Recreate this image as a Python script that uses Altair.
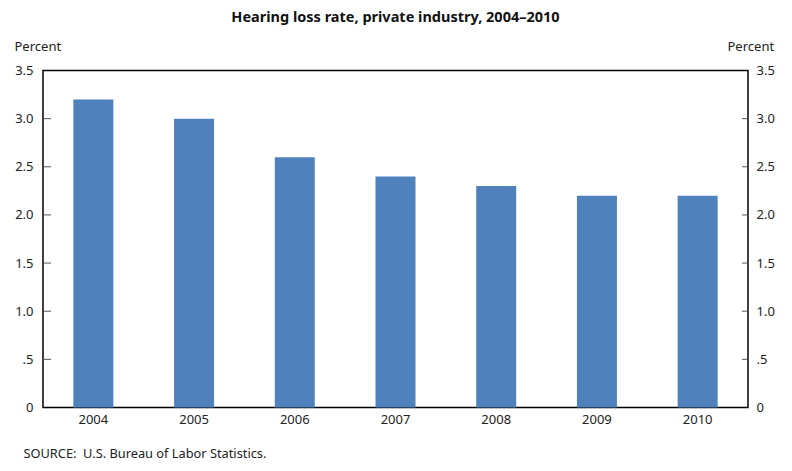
import altair as alt
import pandas as pd

years = ["2004", "2005", "2006", "2007", "2008", "2009", "2010"]
rates = [3.2, 3.0, 2.6, 2.4, 2.3, 2.2, 2.2]
tick_values = [0.5, 1.0, 1.5, 2.0, 2.5, 3.0]
axis_values = [0, 0.5, 1, 1.5, 2, 2.5, 3, 3.5]

df = pd.DataFrame({"year": years, "rate": rates})
ticks = pd.DataFrame({"v": tick_values})

FONT = "Noto Sans"
W, H = 705, 337
label_expr = "datum.value == 0 ? '0' : (datum.value < 1 ? '.' + format(datum.value * 10, 'd') : format(datum.value, '.1f'))"
yscale = alt.Scale(domain=[0, 3.5], nice=False, zero=True)

left_axis = alt.Axis(title="Percent", titleAngle=0, titleAlign="left", titleBaseline="alphabetic",
                     titleX=-29, titleY=-20, titleFontWeight="normal", titleFontSize=13,
                     titleFont=FONT, titleColor="#222",
                     values=axis_values, labelExpr=label_expr,
                     labelFontSize=13, labelFont=FONT, labelColor="#222", labelPadding=10,
                     ticks=False, domain=False, grid=False)

bars = alt.Chart(df).mark_bar(color="#4f81bd", width=40).encode(
    x=alt.X("year:N", sort=years, scale=alt.Scale(paddingInner=0.6, paddingOuter=0.3),
            axis=alt.Axis(title="SOURCE:\u00a0 U.S. Bureau of Labor Statistics.", titleAnchor="start",
                          titleAlign="left", titleBaseline="alphabetic", titleX=-20, titleY=50,
                          titleFontWeight="normal", titleFontSize=12.8, titleFont=FONT, titleColor="#222",
                          labelAngle=0, labelFontSize=13, labelFont=FONT, labelColor="#222",
                          labelPadding=6, ticks=False, domain=False)),
    y=alt.Y("rate:Q", scale=yscale, axis=left_axis),
)

left_ticks = alt.Chart(ticks).mark_rule(color="#555", strokeWidth=1).encode(
    y=alt.Y("v:Q", scale=yscale, axis=left_axis),
    x=alt.value(0), x2=alt.value(8),
)

right_ticks = alt.Chart(ticks).mark_rule(color="#555", strokeWidth=1).encode(
    y=alt.Y("v:Q", scale=yscale,
            axis=alt.Axis(orient="right", title="Percent", titleAngle=0, titleAlign="left",
                          titleBaseline="alphabetic", titleX=-21, titleY=-20,
                          titleFontWeight="normal", titleFontSize=13, titleFont=FONT, titleColor="#222",
                          values=axis_values, labelExpr=label_expr,
                          labelFontSize=13, labelFont=FONT, labelColor="#222", labelPadding=8,
                          ticks=False, domain=False, grid=False)),
    x=alt.value(W - 6), x2=alt.value(W),
)

chart = alt.layer(alt.layer(bars, left_ticks), right_ticks).resolve_scale(y="independent").properties(
    width=W, height=H,
    background="white",
    title=alt.TitleParams("Hearing loss rate, private industry, 2004–2010", font=FONT, fontSize=14.5,
                          fontWeight="bold", color="#111", anchor="middle", offset=15),
    autosize=alt.AutoSizeParams(type="none"),
    padding={"left": 35, "top": 62.5, "right": 36, "bottom": 58},
).configure_view(stroke="#000", strokeWidth=1.5)

chart.save("out.html", embed_options={"renderer": "svg", "actions": False})
